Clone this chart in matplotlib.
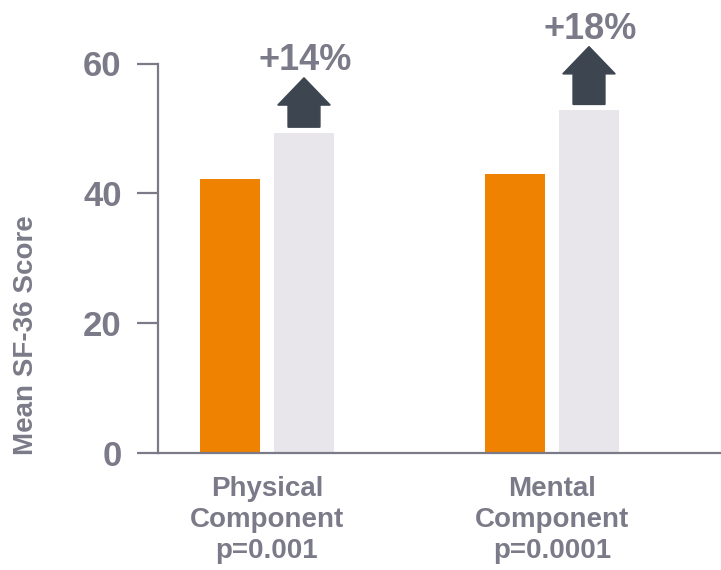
import matplotlib
matplotlib.use("Agg")
import matplotlib.pyplot as plt
from matplotlib.patches import FancyArrow

# ---- data ----
categories = ["Physical\nComponent\np=0.001", "Mental\nComponent\np=0.0001"]
baseline = [42.2, 43.0]
followup = [49.3, 52.8]
changes = ["+14%", "+18%"]
yticks = [0, 20, 40, 60]

# ---- style ----
ORANGE = "#ef8200"
LIGHT = "#e8e6ea"
ARROW = "#3c4550"
TEXT = "#7b7a88"
plt.rcParams["font.family"] = ["Liberation Sans", "DejaVu Sans"]
plt.rcParams["font.weight"] = "bold"

fig = plt.figure(figsize=(7.21, 5.70), dpi=100)
ax = fig.add_axes([157.7 / 721, 116.7 / 570, (721 - 157.7) / 721, (453.3 - 63.5) / 570])

width = 0.2105
off = 0.1298
x = list(range(len(categories)))
ax.bar([i - off for i in x], baseline, width=width, color=ORANGE, zorder=2)
ax.bar([i + off for i in x], followup, width=width, color=LIGHT, zorder=2)

# arrows above follow-up bars
gap = 0.9
arrow_len = [7.6, 8.9]
for i, (v, lab, L) in enumerate(zip(followup, changes, arrow_len)):
    a = FancyArrow(i + off, v + gap, 0, L, width=0.112, head_width=0.184,
                   head_length=4.2, length_includes_head=True,
                   color=ARROW, clip_on=False, zorder=3)
    ax.add_patch(a)
    ax.text(i + off + 0.005, v + gap + L + 1.2, lab, ha="center", va="baseline",
            fontsize=26, fontweight="bold", color=TEXT, clip_on=False)

ax.set_xlim(-0.3835, 1.593)
ax.set_ylim(0, 60)
ax.set_yticks(yticks)
ax.set_yticklabels([str(t) for t in yticks])
ax.set_xticks(x)
ax.set_xticklabels(categories, linespacing=1.25)

for s in ["top", "right"]:
    ax.spines[s].set_visible(False)
for s in ["left", "bottom"]:
    ax.spines[s].set_color(TEXT)
    ax.spines[s].set_linewidth(1.6)

ax.tick_params(axis="y", length=15, width=1.6, color=TEXT, pad=11,
               labelsize=25, labelcolor=TEXT)
ax.tick_params(axis="x", length=0, pad=16.5, labelsize=20, labelcolor=TEXT)
for t in ax.get_yticklabels() + ax.get_xticklabels():
    t.set_fontweight("bold")

ax.set_ylabel("Mean SF-36 Score", fontsize=20, fontweight="bold", color=TEXT)
ax.yaxis.label.set_va("center")
ax.yaxis.set_label_coords(-0.234, 0.303)

fig.savefig("out.png", dpi=100)
